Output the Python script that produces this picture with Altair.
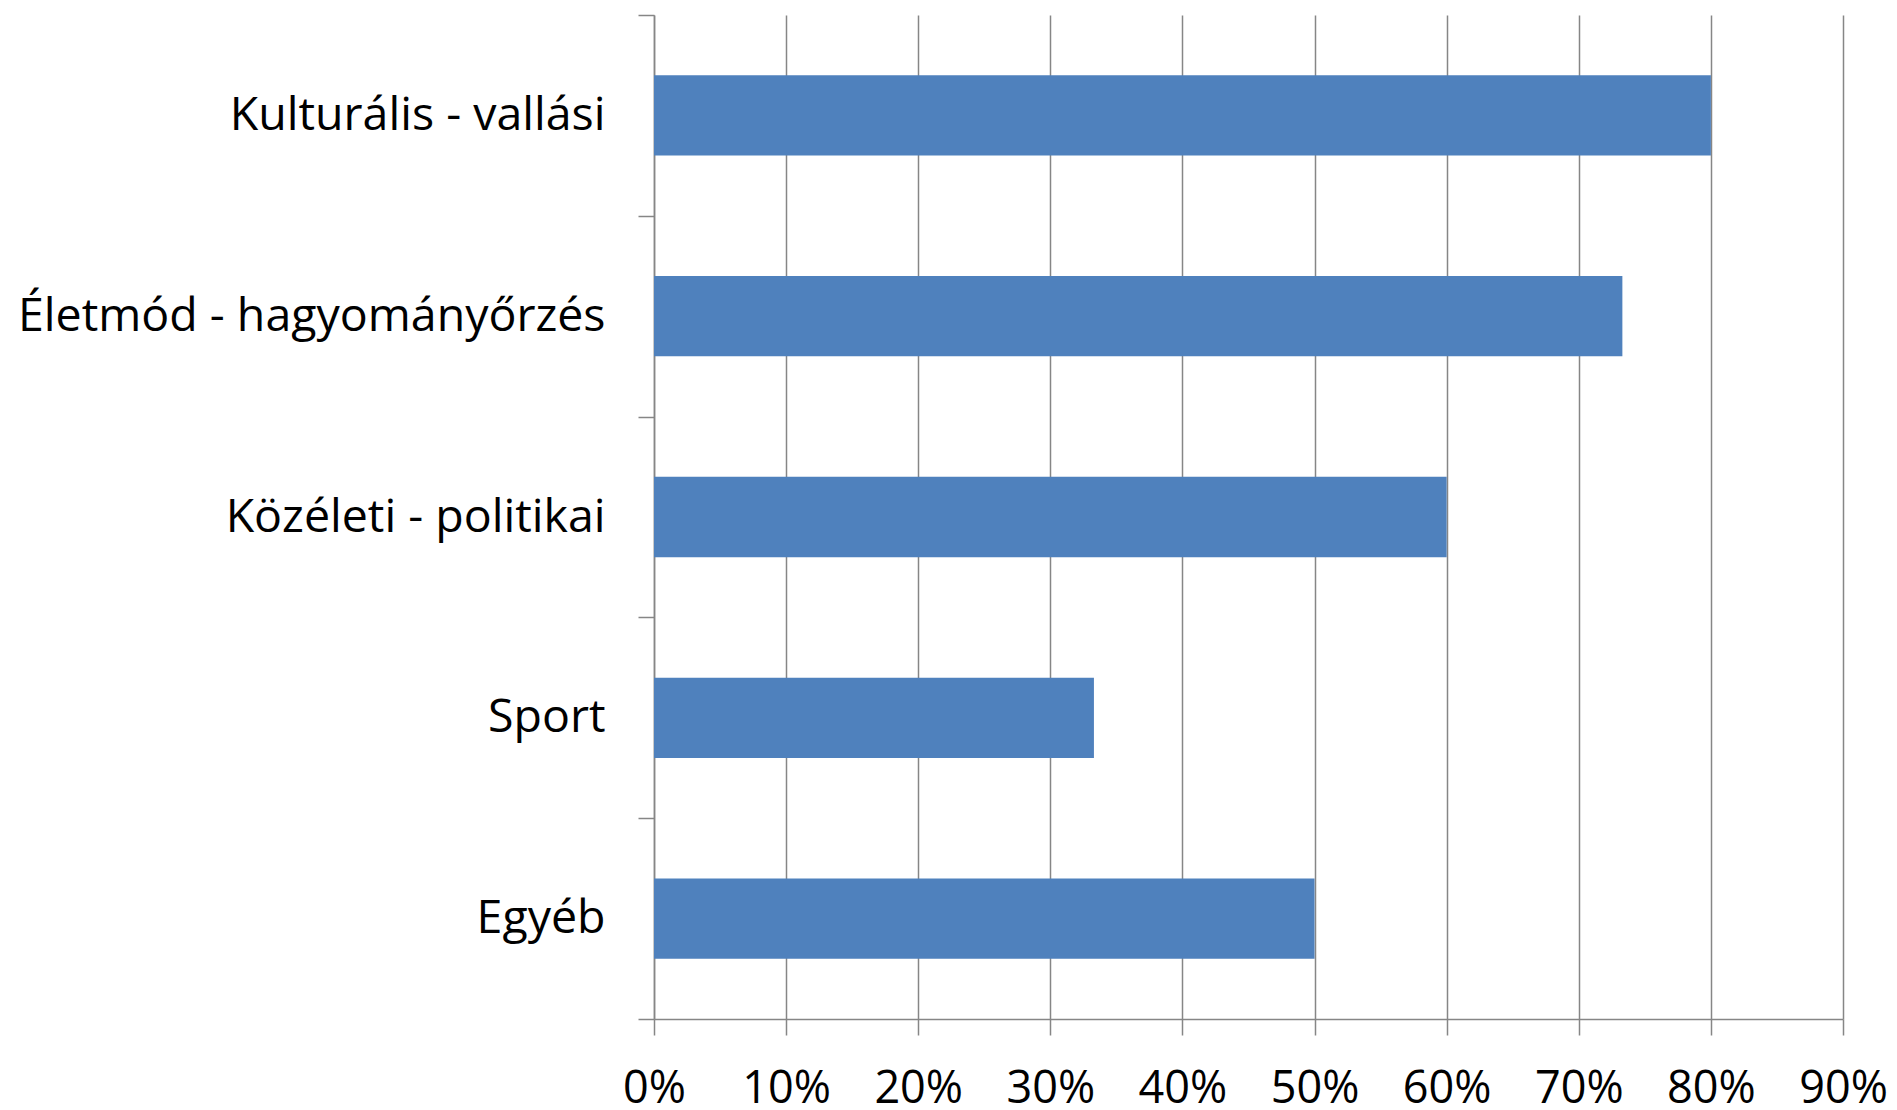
import altair as alt
import pandas as pd

categories = ["Kulturális - vallási", "Életmód - hagyományőrzés", "Közéleti - politikai", "Sport", "Egyéb"]
values = [0.80, 0.733, 0.60, 0.333, 0.50]
x_ticks = [0.0, 0.1, 0.2, 0.3, 0.4, 0.5, 0.6, 0.7, 0.8, 0.9]

df = pd.DataFrame({"category": categories, "value": values})

FONT = "Open Sans"
GRAY = "#868686"

chart = alt.Chart(df).mark_bar(
    color="#4F81BD", height=alt.RelativeBandSize(0.4)
).encode(
    x=alt.X("value:Q",
            scale=alt.Scale(domain=[0, 0.9], nice=False, zero=True),
            axis=alt.Axis(values=x_ticks, format=".0%", title=None,
                          grid=True, gridColor=GRAY, gridWidth=1.5, gridOpacity=1,
                          domainColor=GRAY, domainWidth=1.5,
                          tickColor=GRAY, tickWidth=1.5, tickSize=16,
                          labelFont=FONT, labelFontSize=45, labelColor="black",
                          labelPadding=31, labelFlush=False, labelOverlap=False)),
    y=alt.Y("category:N", sort=categories,
            scale=alt.Scale(paddingInner=0, paddingOuter=0),
            axis=alt.Axis(title=None, tickBand="extent",
                          domainColor=GRAY, domainWidth=1.5,
                          tickColor=GRAY, tickWidth=1.5, tickSize=16,
                          labelFont=FONT, labelFontSize=46.5, labelColor="black",
                          labelPadding=33, labelLimit=0)),
).properties(
    width=1189, height=1004,
    autosize=alt.AutoSizeParams(type="none"),
    padding={"left": 646, "top": 7, "right": 45, "bottom": 100},
).configure_view(stroke=None)

chart.save("out.html", embed_options={"renderer": "svg", "actions": False})
